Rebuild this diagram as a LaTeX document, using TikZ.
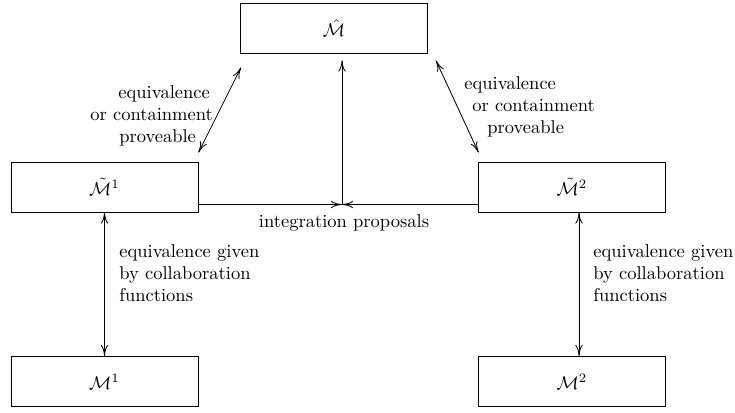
\documentclass[tikz,border=0pt]{standalone}
\usetikzlibrary{arrows.meta,calc}
\begin{document}
\begin{tikzpicture}[x=0.54pt,y=-0.54pt,
  box/.style={draw,line width=0.5pt,minimum width=100.98pt,minimum height=27pt,inner sep=0pt},
  link/.style={line width=0.45pt},
  tip/.tip={Computer Modern Rightarrow[length=6pt,width=4pt]},
  lbl/.style={inner sep=0pt,font=\normalsize}]
\useasboundingbox (0,0) rectangle (735,412);

% model boxes
\node[box] (top) at (334,28) {$\hat{\mathcal{M}}$};
\node[box] (mt1) at (104.5,187) {$\tilde{\mathcal{M}}^1$};
\node[box] (mt2) at (572,187) {$\tilde{\mathcal{M}}^2$};
\node[box] (m1) at (104.5,381.5) {$\mathcal{M}^1$};
\node[box] (m2) at (572,381.5) {$\mathcal{M}^2$};

% integration proposals meet in one point
\coordinate (hub) at (342,204.5);
\draw[link,-tip] (mt1.east |- hub) -- (hub);
\draw[link,-tip] (mt2.west |- hub) -- (hub);
\draw[link,-tip] (hub) -- ($(hub |- top.south)+(0,7)$);
\node[lbl,anchor=base] (ip) at (344,227) {integration proposals};

% proveable relations to the integrated model
\draw[link,tip-tip] ($(mt1.north east)+(0,-9)$) -- ($(top.south west)+(1,14)$);
\draw[link,tip-tip] ($(top.south east)+(8,7)$) -- ($(mt2.north west)+(0.5,-9)$);
\node[lbl,anchor=north west,align=left] (l1) at (90,85)
  {\hspace*{15.1pt}equivalence\\ or containment\\ \hspace*{15.6pt}proveable};
\node[lbl,anchor=north west,align=left] (l2) at (464,76)
  {equivalence\\ \hspace*{4.3pt}or containment\\ \hspace*{12.4pt}proveable};

% collaboration functions
\draw[link,tip-tip] (mt1.south) -- (m1.north);
\draw[link,tip-tip] ($(mt2.south)+(7,0)$) -- ($(m2.north)+(7,0)$);
\node[lbl,anchor=north west,align=left] (c1) at (119,244)
  {equivalence given\\ by collaboration\\ functions};
\node[lbl,anchor=north west,align=left] (c2) at (593,244)
  {equivalence given\\ by collaboration\\ functions};
\end{tikzpicture}
\end{document}
